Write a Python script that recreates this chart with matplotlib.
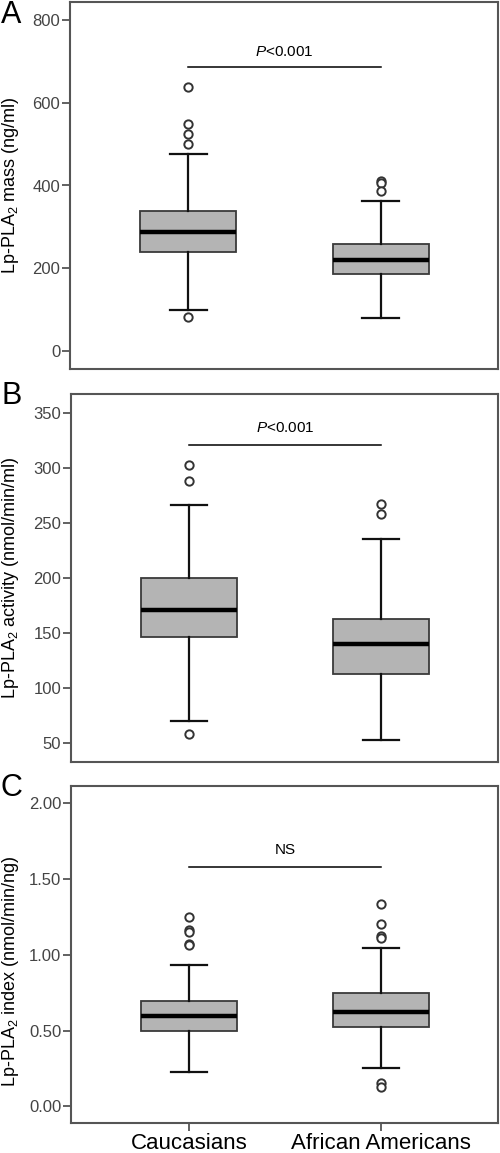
import matplotlib
matplotlib.use("Agg")
import matplotlib.pyplot as plt
from matplotlib.ticker import FormatStrFormatter

plt.rcParams['font.family'] = ['Liberation Sans', 'DejaVu Sans']
plt.rcParams['mathtext.fontset'] = 'custom'
plt.rcParams['mathtext.rm'] = 'Liberation Sans'
plt.rcParams['mathtext.it'] = 'Liberation Sans:italic'

groups = ["Caucasians", "African Americans"]
positions = [1, 2]

# Panel A: Lp-PLA2 mass (ng/ml)
mass_whislo = [98, 80]
mass_q1 = [238, 185]
mass_med = [288, 219]
mass_q3 = [339, 259]
mass_whishi = [477, 363]
mass_fliers = [[638, 549, 525, 500, 81], [412, 406, 386]]
mass_ticks = [0, 200, 400, 600, 800]

# Panel B: Lp-PLA2 activity (nmol/min/ml)
act_whislo = [70, 53]
act_q1 = [146, 113]
act_med = [171, 140]
act_q3 = [200, 163]
act_whishi = [266, 235]
act_fliers = [[303, 288, 58], [267, 258]]
act_ticks = [50, 100, 150, 200, 250, 300, 350]

# Panel C: Lp-PLA2 index (nmol/min/ng)
idx_whislo = [0.224, 0.255]
idx_q1 = [0.50, 0.521]
idx_med = [0.593, 0.620]
idx_q3 = [0.692, 0.745]
idx_whishi = [0.934, 1.046]
idx_fliers = [[1.252, 1.163, 1.152, 1.070, 1.062], [1.338, 1.204, 1.125, 1.110, 0.154, 0.125]]
idx_ticks = [0.0, 0.5, 1.0, 1.5, 2.0]

sig_labels = ["$\\it{P}$<0.001", "$\\it{P}$<0.001", "NS"]
sig_line_y = [687, 320.4, 1.578]
sig_text_y = [723, 336, 1.692]
ylabels = ["Lp-PLA$_2$ mass (ng/ml)", "Lp-PLA$_2$ activity (nmol/min/ml)",
           "Lp-PLA$_2$ index (nmol/min/ng)"]
panel_letters = ["A", "B", "C"]

W, H = 500, 1153
fig = plt.figure(figsize=(W / 100, H / 100), dpi=100)

def rect(left, top, right, bottom):
    return [left / W, 1 - bottom / H, (right - left) / W, (bottom - top) / H]

axes_px = [(70, 2, 498, 369), (71, 394, 498, 762), (71, 786, 498, 1123)]
ylims = [(-44, 844), (33, 367), (-0.11, 2.114)]
label_y_px = [185, 578, 971]
letter_y_px = [15, 396, 788]

panels = [
    (mass_whislo, mass_q1, mass_med, mass_q3, mass_whishi, mass_fliers, mass_ticks),
    (act_whislo, act_q1, act_med, act_q3, act_whishi, act_fliers, act_ticks),
    (idx_whislo, idx_q1, idx_med, idx_q3, idx_whishi, idx_fliers, idx_ticks),
]

edge = "#3a3a3a"
for i, (wl, q1, med, q3, wh, fl, ticks) in enumerate(panels):
    ax = fig.add_axes(rect(*axes_px[i]))
    stats = []
    for j in range(2):
        stats.append(dict(whislo=wl[j], q1=q1[j], med=med[j], q3=q3[j],
                          whishi=wh[j], fliers=fl[j]))
    ax.bxp(stats, positions=positions, widths=0.5, capwidths=0.19,
           patch_artist=True, showfliers=True,
           boxprops=dict(facecolor="#b4b4b4", edgecolor=edge, linewidth=1.3),
           medianprops=dict(color="black", linewidth=3.2, solid_capstyle="butt"),
           whiskerprops=dict(color="#111111", linewidth=1.6),
           capprops=dict(color="#111111", linewidth=1.6),
           flierprops=dict(marker="o", markersize=6, markerfacecolor="white",
                           markeredgecolor="#333333", markeredgewidth=1.4,
                           linestyle="none"))
    ax.set_xlim(0.385, 2.61)
    ax.set_ylim(*ylims[i])
    ax.set_yticks(ticks)
    if i == 2:
        ax.yaxis.set_major_formatter(FormatStrFormatter("%.2f"))
        ax.set_xticks(positions)
        ax.set_xticklabels(groups, fontsize=16, color="black")
        ax.tick_params(axis="x", length=6, width=1.3, color="#555555", pad=1.5)
    else:
        ax.set_xticks([])
    ax.tick_params(axis="y", length=6, width=1.3, color="#555555",
                   labelsize=12, labelcolor="#444444", pad=1)
    for s in ax.spines.values():
        s.set_color("#555555")
        s.set_linewidth(1.5)
    # significance line
    ax.plot(positions, [sig_line_y[i]] * 2, color="black", linewidth=1.1)
    ax.text(sum(positions) / 2, sig_text_y[i], sig_labels[i], ha="center",
            va="center", fontsize=11, color="black")
    ax.set_ylabel(ylabels[i], fontsize=13, color="black")
    ax.yaxis.set_label_coords(21 / W, 1 - label_y_px[i] / H, transform=fig.transFigure)
    fig.text(1 / W, 1 - letter_y_px[i] / H, panel_letters[i], fontsize=22,
             ha="left", va="center", color="black")

fig.savefig("out.png", dpi=100)
